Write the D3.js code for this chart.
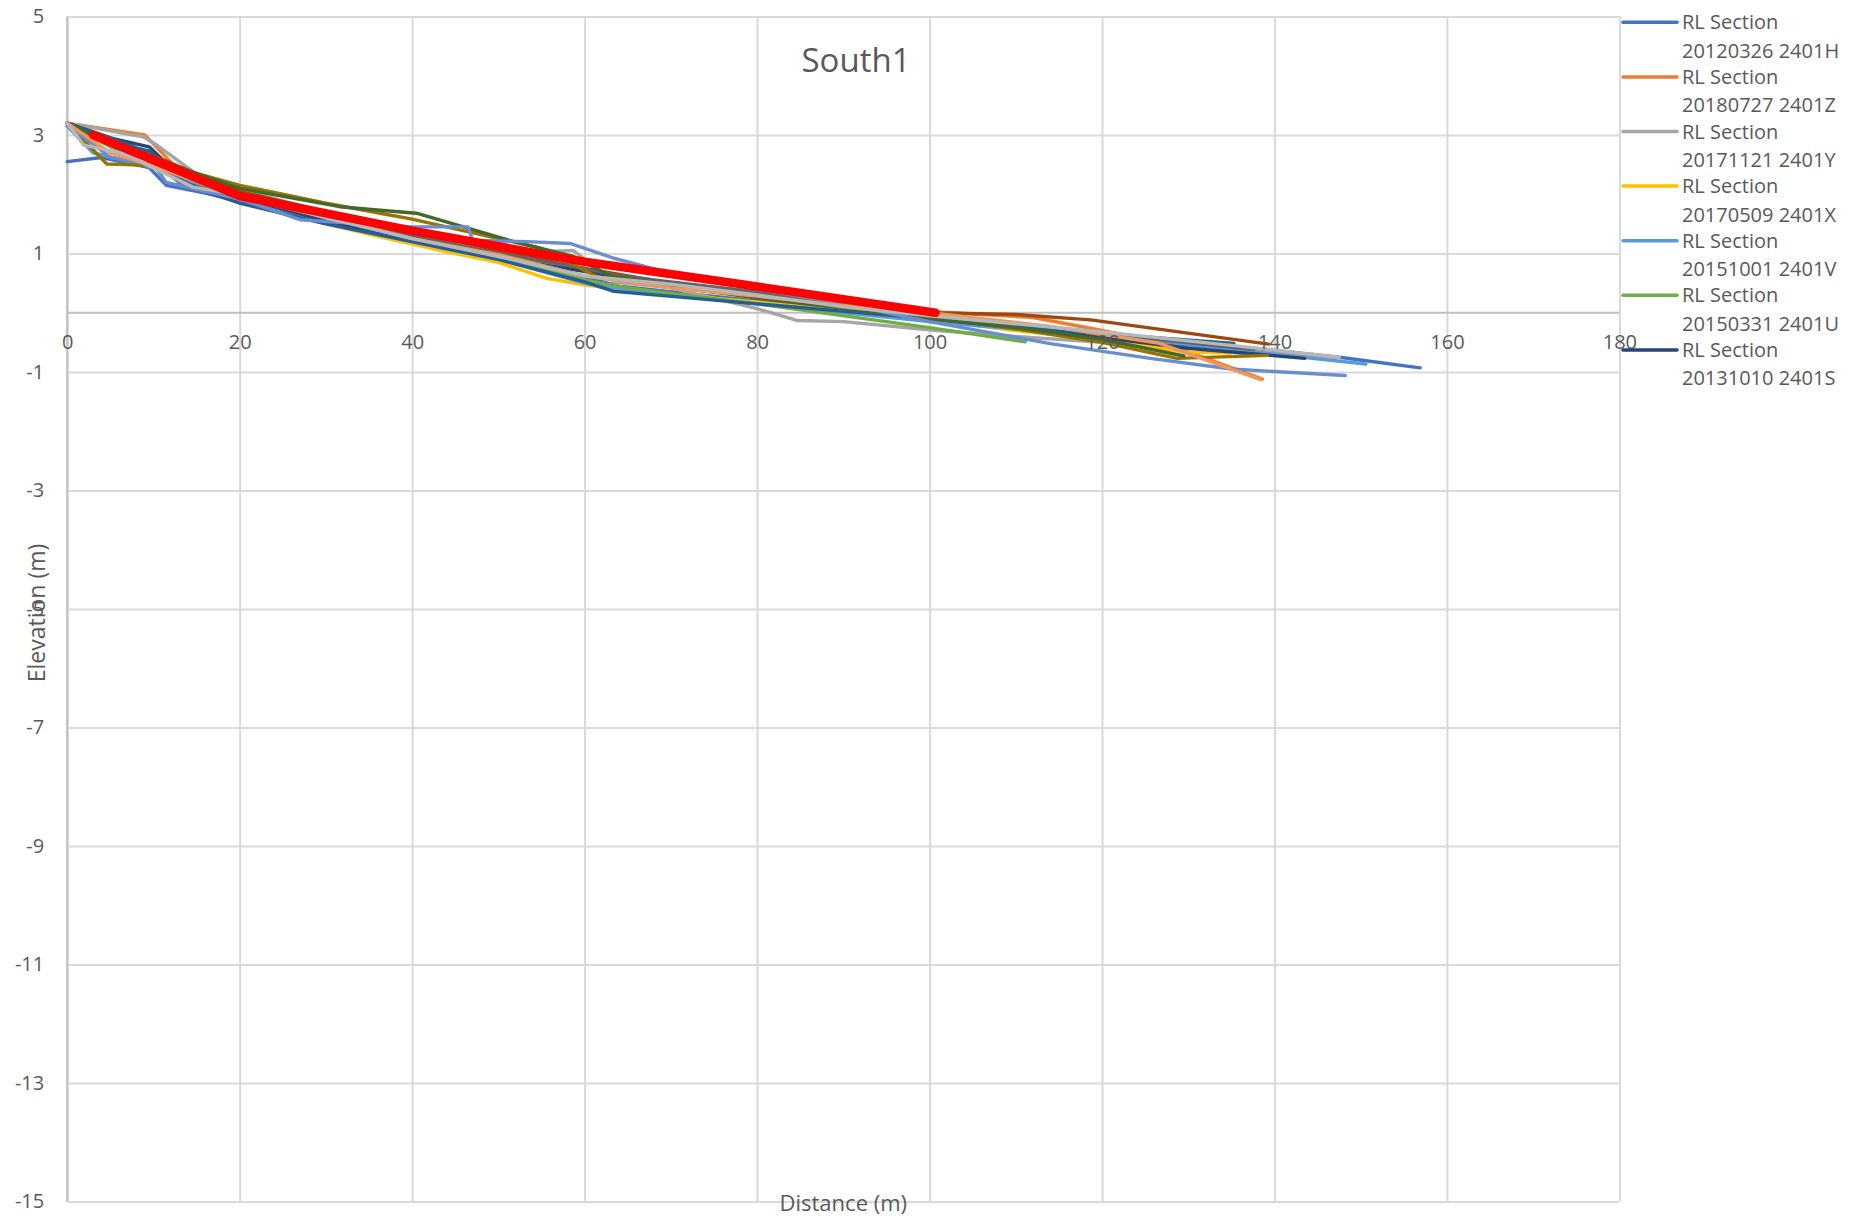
<!DOCTYPE html>
<html>
<head>
<meta charset="utf-8">
<script src="https://cdn.jsdelivr.net/npm/d3@7"></script>
<style>
  html, body { margin: 0; padding: 0; background: #ffffff; }
  svg { display: block; font-family: "Open Sans", "Liberation Sans", sans-serif; }
</style>
</head>
<body>
<svg id="chart" width="1849" height="1219"></svg>
<script>
// ---------- data ----------
const chartTitle = "South1";
const xTitle = "Distance (m)";
const yTitle = "Elevation (m)";
const xTicks = [0, 20, 40, 60, 80, 100, 120, 140, 160, 180];
const yTicks = [5, 3, 1, -1, -3, -5, -7, -9, -11, -13, -15];

const seriesNames = [
  "RL Section 20120326 2401H",
  "RL Section 20180727 2401Z",
  "RL Section 20171121 2401Y",
  "RL Section 20170509 2401X",
  "RL Section 20151001 2401V",
  "RL Section 20150331 2401U",
  "RL Section 20131010 2401S",
  "", "", "", "", "", "", "", "", ""
];
const seriesColors = [
  "#4472C4", "#ED7D31", "#A5A5A5", "#FFC000", "#5B9BD5", "#70AD47", "#264478",
  "#9E480E", "#636363", "#997300", "#255E91", "#43682B", "#698ED0", "#F1975A", "#B7B7B7",
  "#FF0000"
];
const legendCount = 7;

const s1X = [0, 4, 9.5, 11.5, 16, 20, 27, 35, 40, 50, 60, 64, 80, 100, 120, 139, 148, 156.9];
const s1Y = [2.55, 2.62, 2.45, 2.15, 2.02, 1.88, 1.62, 1.45, 1.3, 0.98, 0.6, 0.45, 0.2, -0.1, -0.38, -0.62, -0.76, -0.93];

const s2X = [0, 9, 12.3, 16, 20, 30, 40, 50, 60, 70, 80, 90, 100, 112, 120, 127, 138.6];
const s2Y = [3.2, 3.0, 2.5, 2.25, 2.05, 1.68, 1.32, 1.0, 0.7, 0.5, 0.32, 0.18, 0.02, -0.08, -0.3, -0.5, -1.12];

const s3X = [0, 8.8, 10.4, 14.6, 20, 30, 40, 50, 54.9, 58.7, 63.4, 70, 80, 84.6, 90, 100.2, 110, 120, 135, 147.5];
const s3Y = [3.2, 2.97, 2.83, 2.38, 2.08, 1.7, 1.3, 1.06, 1.03, 1.05, 0.52, 0.42, 0.07, -0.13, -0.15, -0.29, -0.4, -0.5, -0.64, -0.75];

const s4X = [0, 5, 10, 15, 20, 30, 36.3, 44, 50, 55.6, 60, 65, 80, 100, 110, 120, 129.5, 134.9];
const s4Y = [3.2, 2.95, 2.6, 2.2, 1.85, 1.5, 1.28, 1.03, 0.85, 0.58, 0.47, 0.38, 0.18, -0.12, -0.3, -0.45, -0.66, -0.68];

const s5X = [0, 3, 10, 20, 27, 40, 50, 60, 64, 80, 100, 120, 140, 150.6];
const s5Y = [3.15, 2.7, 2.45, 1.9, 1.6, 1.2, 0.9, 0.5, 0.4, 0.15, -0.15, -0.4, -0.7, -0.865];

const s6X = [0, 5, 10, 15, 20, 30, 40, 50, 60, 65, 80, 100, 111.1];
const s6Y = [3.2, 2.8, 2.55, 2.3, 2.0, 1.6, 1.25, 0.95, 0.55, 0.42, 0.15, -0.25, -0.49];

const s7X = [0, 5, 9.5, 12, 20, 30, 40, 50, 60, 64, 80, 100, 120, 130, 143.5];
const s7Y = [3.2, 2.95, 2.8, 2.45, 1.95, 1.55, 1.25, 0.92, 0.7, 0.6, 0.3, -0.1, -0.42, -0.6, -0.77];

const s8X = [0, 10, 20, 30, 40, 50, 60, 70, 80, 90, 100, 110, 118.7, 139.3];
const s8Y = [3.2, 2.65, 2.05, 1.7, 1.4, 1.05, 0.75, 0.5, 0.35, 0.15, 0.0, -0.03, -0.12, -0.53];

const s9X = [0, 10, 13, 20, 30, 40, 50, 60, 64, 80, 90, 100, 120, 137.6];
const s9Y = [3.2, 2.55, 2.2, 1.95, 1.6, 1.3, 1.0, 0.75, 0.62, 0.35, 0.15, -0.05, -0.35, -0.62];

const s10X = [0, 4.6, 6.9, 10, 15, 20, 30, 36.3, 40, 50, 54.9, 61.4, 64, 80, 100, 120, 128.7, 139.2];
const s10Y = [3.2, 2.51, 2.5, 2.48, 2.35, 2.15, 1.85, 1.68, 1.58, 1.25, 1.09, 0.61, 0.55, 0.25, -0.05, -0.5, -0.77, -0.72];

const s11X = [0, 5, 8.1, 9.8, 11.5, 16, 20, 30, 40, 50, 60, 63.4, 80, 100, 114, 135.3];
const s11Y = [3.2, 2.95, 2.78, 2.72, 2.35, 2.05, 1.85, 1.5, 1.2, 0.9, 0.52, 0.36, 0.15, -0.1, -0.29, -0.52];

const s12X = [0, 5, 10, 15, 20, 31.6, 36.3, 40.5, 51.8, 58.7, 63, 80, 100, 110, 120, 129.5];
const s12Y = [3.2, 2.85, 2.6, 2.35, 2.1, 1.79, 1.73, 1.68, 1.2, 0.95, 0.62, 0.25, -0.1, -0.25, -0.45, -0.73];

const s13X = [0, 3, 5, 10, 11.5, 16, 20, 27, 39.5, 46.5, 47, 53.3, 58.3, 63.4, 69.9, 80, 90, 100, 114, 125.6, 135, 148.2];
const s13Y = [3.15, 2.85, 2.62, 2.5, 2.2, 2.05, 1.92, 1.57, 1.45, 1.45, 1.22, 1.2, 1.17, 0.92, 0.67, 0.4, 0.15, -0.15, -0.52, -0.77, -0.95, -1.06];

const s14X = [0, 5, 10, 20, 30, 40, 50, 60, 70, 80, 90, 100, 114, 126.5, 138.4];
const s14Y = [3.2, 2.7, 2.48, 1.95, 1.62, 1.25, 0.98, 0.62, 0.42, 0.28, 0.12, 0.0, -0.23, -0.51, -1.13];

const s15X = [0, 1.9, 6.5, 14.6, 20, 30, 40, 50, 60, 70, 80, 90, 100, 119.8, 135, 147.5];
const s15Y = [3.2, 2.83, 2.69, 2.12, 1.99, 1.6, 1.25, 0.95, 0.62, 0.48, 0.3, 0.1, -0.05, -0.32, -0.55, -0.75];

const s16X = [3, 20, 40, 60, 78, 100.7];
const s16Y = [3.0, 1.97, 1.385, 0.86, 0.485, 0.0];

const seriesX = [s1X, s2X, s3X, s4X, s5X, s6X, s7X, s8X, s9X, s10X, s11X, s12X, s13X, s14X, s15X, s16X];
const seriesY = [s1Y, s2Y, s3Y, s4Y, s5Y, s6Y, s7Y, s8Y, s9Y, s10Y, s11Y, s12Y, s13Y, s14Y, s15Y, s16Y];

// ---------- layout ----------
const svg = d3.select("#chart");
const pLeft = 67.2, pRight = 1619.4, pTop = 16.5, pBottom = 1201.5;
const x = d3.scaleLinear().domain([0, 180]).range([pLeft, pRight]);
const y = d3.scaleLinear().domain([-15, 5]).range([pBottom, pTop]);
const textColor = "#595959";
const gridColor = "#d9d9d9";
const fmt = d => String(d);

// gridlines
svg.append("g")
  .attr("transform", `translate(0,${pBottom})`)
  .call(d3.axisBottom(x).tickValues(xTicks).tickSize(-(pBottom - pTop)).tickFormat(""))
  .call(g => g.select(".domain").remove())
  .call(g => g.selectAll("line").attr("stroke", gridColor).attr("stroke-width", 2));
svg.append("g")
  .attr("transform", `translate(${pLeft},0)`)
  .call(d3.axisLeft(y).tickValues(yTicks).tickSize(-(pRight - pLeft)).tickFormat(""))
  .call(g => g.select(".domain").remove())
  .call(g => g.selectAll("line").attr("stroke", gridColor).attr("stroke-width", 2));

// axis lines
svg.append("line")
  .attr("x1", x(0)).attr("x2", x(0)).attr("y1", pTop).attr("y2", pBottom)
  .attr("stroke", "#bfbfbf").attr("stroke-width", 2);
svg.append("line")
  .attr("x1", pLeft).attr("x2", pRight).attr("y1", y(0)).attr("y2", y(0))
  .attr("stroke", "#bfbfbf").attr("stroke-width", 2);

// y tick labels
const yAxis = svg.append("g")
  .attr("transform", `translate(${pLeft},0)`)
  .call(d3.axisLeft(y).tickValues(yTicks).tickSize(0).tickPadding(23).tickFormat(fmt));
yAxis.select(".domain").remove();
yAxis.selectAll("text").attr("fill", textColor).attr("font-size", 20)
  .attr("font-family", "'Open Sans', sans-serif");

// series lines
const lineGen = d3.line().x(d => x(d[0])).y(d => y(d[1]));
const plotG = svg.append("g");
seriesX.forEach((xs, i) => {
  const pts = xs.map((v, j) => [v, seriesY[i][j]]);
  const isRed = i === seriesX.length - 1;
  plotG.append("path")
    .datum(pts)
    .attr("d", lineGen)
    .attr("fill", "none")
    .attr("stroke", seriesColors[i])
    .attr("stroke-width", isRed ? 8.5 : 3.4)
    .attr("stroke-linejoin", "round")
    .attr("stroke-linecap", "round");
});

// x tick labels
const xAxis = svg.append("g")
  .attr("transform", `translate(0,${y(0)})`)
  .call(d3.axisBottom(x).tickValues(xTicks).tickSize(0).tickPadding(22).tickFormat(fmt));
xAxis.select(".domain").remove();
xAxis.selectAll("text").attr("fill", textColor).attr("font-size", 20)
  .attr("font-family", "'Open Sans', sans-serif");

// titles
svg.append("text")
  .attr("x", 856).attr("y", 72)
  .attr("text-anchor", "middle")
  .attr("fill", textColor).attr("font-size", 33)
  .text(chartTitle);

svg.append("text")
  .attr("x", (pLeft + pRight) / 2).attr("y", 1211)
  .attr("text-anchor", "middle")
  .attr("fill", textColor).attr("font-size", 22)
  .text(xTitle);

svg.append("text")
  .attr("transform", `translate(45,${(pTop + pBottom) / 2 + 4}) rotate(-90)`)
  .attr("text-anchor", "middle")
  .attr("fill", textColor).attr("font-size", 23)
  .text(yTitle);

// legend
const legend = svg.append("g");
for (let i = 0; i < legendCount; i++) {
  const cy = 22.3 + i * 54.6;
  const g = legend.append("g").attr("transform", `translate(0,${cy})`);
  g.append("line")
    .attr("x1", 1623).attr("x2", 1677).attr("y1", 0).attr("y2", 0)
    .attr("stroke", seriesColors[i]).attr("stroke-width", 3.5).attr("stroke-linecap", "round");
  const words = seriesNames[i].split(" ");
  const line1 = words.slice(0, 2).join(" ");
  const line2 = words.slice(2).join(" ");
  g.append("text").attr("x", 1682).attr("y", 7)
    .attr("fill", textColor).attr("font-size", 20).text(line1);
  g.append("text").attr("x", 1682).attr("y", 35.5)
    .attr("fill", textColor).attr("font-size", 20).text(line2);
}
</script>
</body>
</html>
